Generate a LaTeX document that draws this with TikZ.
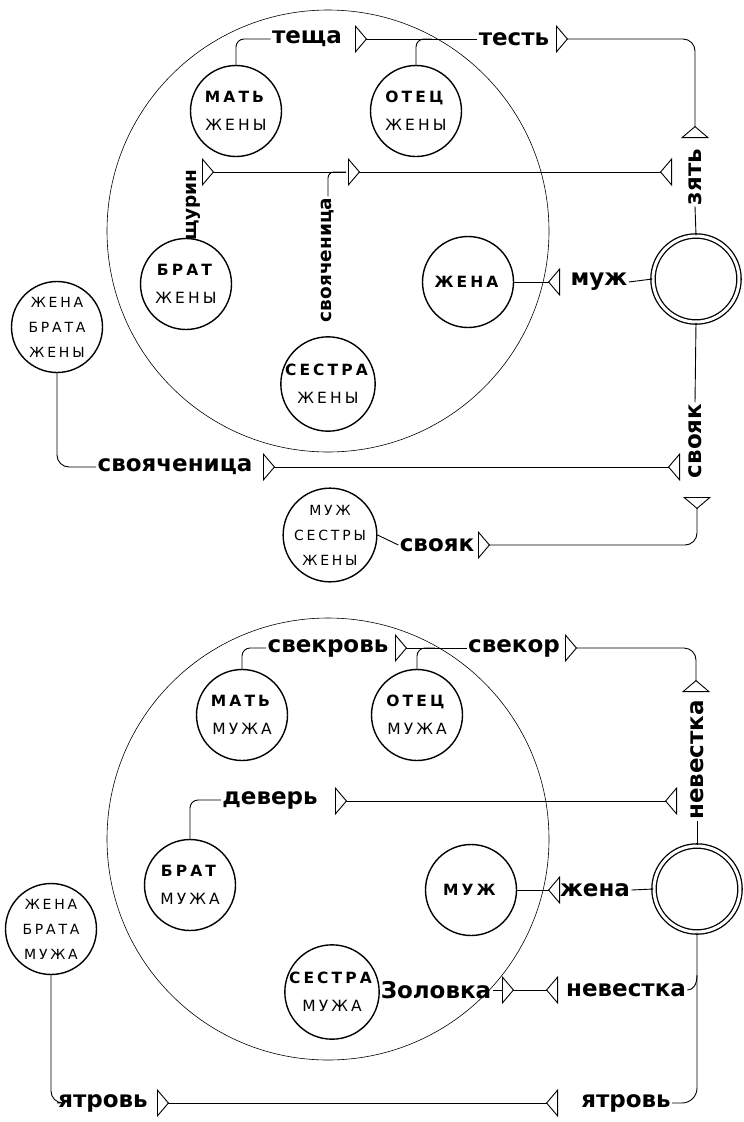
\documentclass[tikz,border=0pt]{standalone}
\usepackage{fontspec}
\setmainfont{DejaVu Sans}
\newfontfamily\capfont{DejaVu Sans}[LetterSpace=20]
\usetikzlibrary{arrows.meta}

\tikzset{
  tri/.tip={Triangle[open,reversed,length=12pt,width=28pt]},
  person/.style={circle,draw,line width=1.4pt,minimum size=91pt,inner sep=0pt,align=center,
    font=\capfont\fontsize{15.5}{28}\selectfont},
  person3/.style={person,font=\capfont\fontsize{14}{25}\selectfont},
  ego/.style={circle,draw,line width=1.3pt,double,double distance=3pt,minimum size=86pt},
  lab/.style={font=\fontsize{23}{23}\selectfont\bfseries,inner sep=1pt},
  slab/.style={lab,font=\fontsize{18.5}{19}\selectfont\bfseries,rotate=90},
  family/.style={line width=0.6pt},
}

\begin{document}
\begin{tikzpicture}[x=1pt,y=-1pt,line width=0.9pt]
\useasboundingbox (0,0) rectangle (744,1122);
% wife's family
\draw[family] (328,231) circle[radius=221];
\node[person] (MW) at (236,111) {\textbf{МАТЬ}\\ЖЕНЫ};
\node[person] (FW) at (416,111) {\textbf{ОТЕЦ}\\ЖЕНЫ};
\node[person] (BW) at (186,284) {\textbf{БРАТ}\\ЖЕНЫ};
\node[person] (SW) at (328,384) {\textbf{СЕСТРА}\\ЖЕНЫ};
\node[person] (W) at (468,282) {\textbf{ЖЕНА}};
\node[ego] (EGO) at (696,279) {};
\node[person3] (WBW) at (57,327) {ЖЕНА\\БРАТА\\ЖЕНЫ};
\node[person3] (HSW) at (330,535) {МУЖ\\СЕСТРЫ\\ЖЕНЫ};
\node[lab] (teshcha) at (307,39) {теща};
\node[lab] (test) at (514,39) {тесть};
\node[lab,rotate=90] (zyat) at (695,177) {зять};
\node[slab] (shchurin) at (193,205) {щурин};
\node[slab] (svoyach) at (328,260) {свояченица};
\node[lab] (muzh) at (599,282) {муж};
\node[lab,rotate=90] (svoyak) at (695,441) {свояк};
\node[lab] (svoyach2) at (175,467) {свояченица};
\node[lab] (svoyak2) at (437,545) {свояк};
\draw[rounded corners=8pt] (MW.north) |- (teshcha.west);
\draw[tri-] (355,39) -- (test.west);
\draw[rounded corners=8pt] (FW.north) |- (432,39);
\draw[tri-tri,rounded corners=12pt] (556,39) -| (695,138);
\draw (EGO.north) -- (zyat.west);
\draw[tri-] (202,172) -- (346,172);
\draw[rounded corners=6pt] (svoyach.east) |- (346,172);
\draw[tri-tri] (348,172) -- (672,172);
\draw[-tri] (W.east) -- (560,282);
\draw (muzh.east) -- (EGO.west);
\draw (EGO.south) -- (svoyak.east);
\draw[rounded corners=12pt] (WBW.south) |- (svoyach2.west);
\draw[tri-tri] (263,467) -- (680,467);
\draw (HSW.east) -- (svoyak2.west);
\draw[tri-tri,rounded corners=12pt] (478,545) -| (697,497);
% husband's family
\draw[family] (328,839) circle[radius=221];
\node[person] (MH) at (242,715) {\textbf{МАТЬ}\\МУЖА};
\node[person] (FH) at (417,715) {\textbf{ОТЕЦ}\\МУЖА};
\node[person] (BH) at (190,885) {\textbf{БРАТ}\\МУЖА};
\node[person] (SH) at (332,992) {\textbf{СЕСТРА}\\МУЖА};
\node[person] (H) at (471,890) {\textbf{МУЖ}};
\node[ego] (EGO2) at (697,889) {};
\node[person3] (WBH) at (51,929) {ЖЕНА\\БРАТА\\МУЖА};
\node[lab] (svekrov) at (328,648) {свекровь};
\node[lab] (svekor) at (514,648) {свекор};
\node[lab,rotate=90] (nevestka) at (697,760) {невестка};
\node[lab] (dever) at (270,800) {деверь};
\node[lab] (zhena) at (595,890) {жена};
\node[lab] (zolovka) at (436,990) {Золовка};
\node[lab] (nevestka2) at (626,990) {невестка};
\node[lab] (yatrov) at (103,1103) {ятровь};
\node[lab] (yatrov2) at (626,1103) {ятровь};
\draw[rounded corners=8pt] (MH.north) |- (svekrov.west);
\draw[tri-] (395,648) -- (svekor.west);
\draw[rounded corners=8pt] (FH.north) |- (435,648);
\draw[tri-tri,rounded corners=12pt] (565,648) -| (696,692);
\draw (EGO2.north) -- (nevestka.west);
\draw[rounded corners=8pt] (BH.north) |- (dever.west);
\draw[tri-tri] (335,801) -- (677,801);
\draw[-tri] (H.east) -- (560,890);
\draw (zhena.east) -- (EGO2.west);
\draw (zolovka.east) -- (502,990);
\draw[tri-tri] (502,990) -- (558,990);
\draw (nevestka2.east) .. controls (693,990) and (697,985) .. (697,975);
\draw[rounded corners=15pt] (EGO2.south) |- (yatrov2.east);
\draw[rounded corners=12pt] (WBH.south) |- (yatrov.west);
\draw[tri-tri] (157,1103) -- (558,1103);
\end{tikzpicture}
\end{document}
